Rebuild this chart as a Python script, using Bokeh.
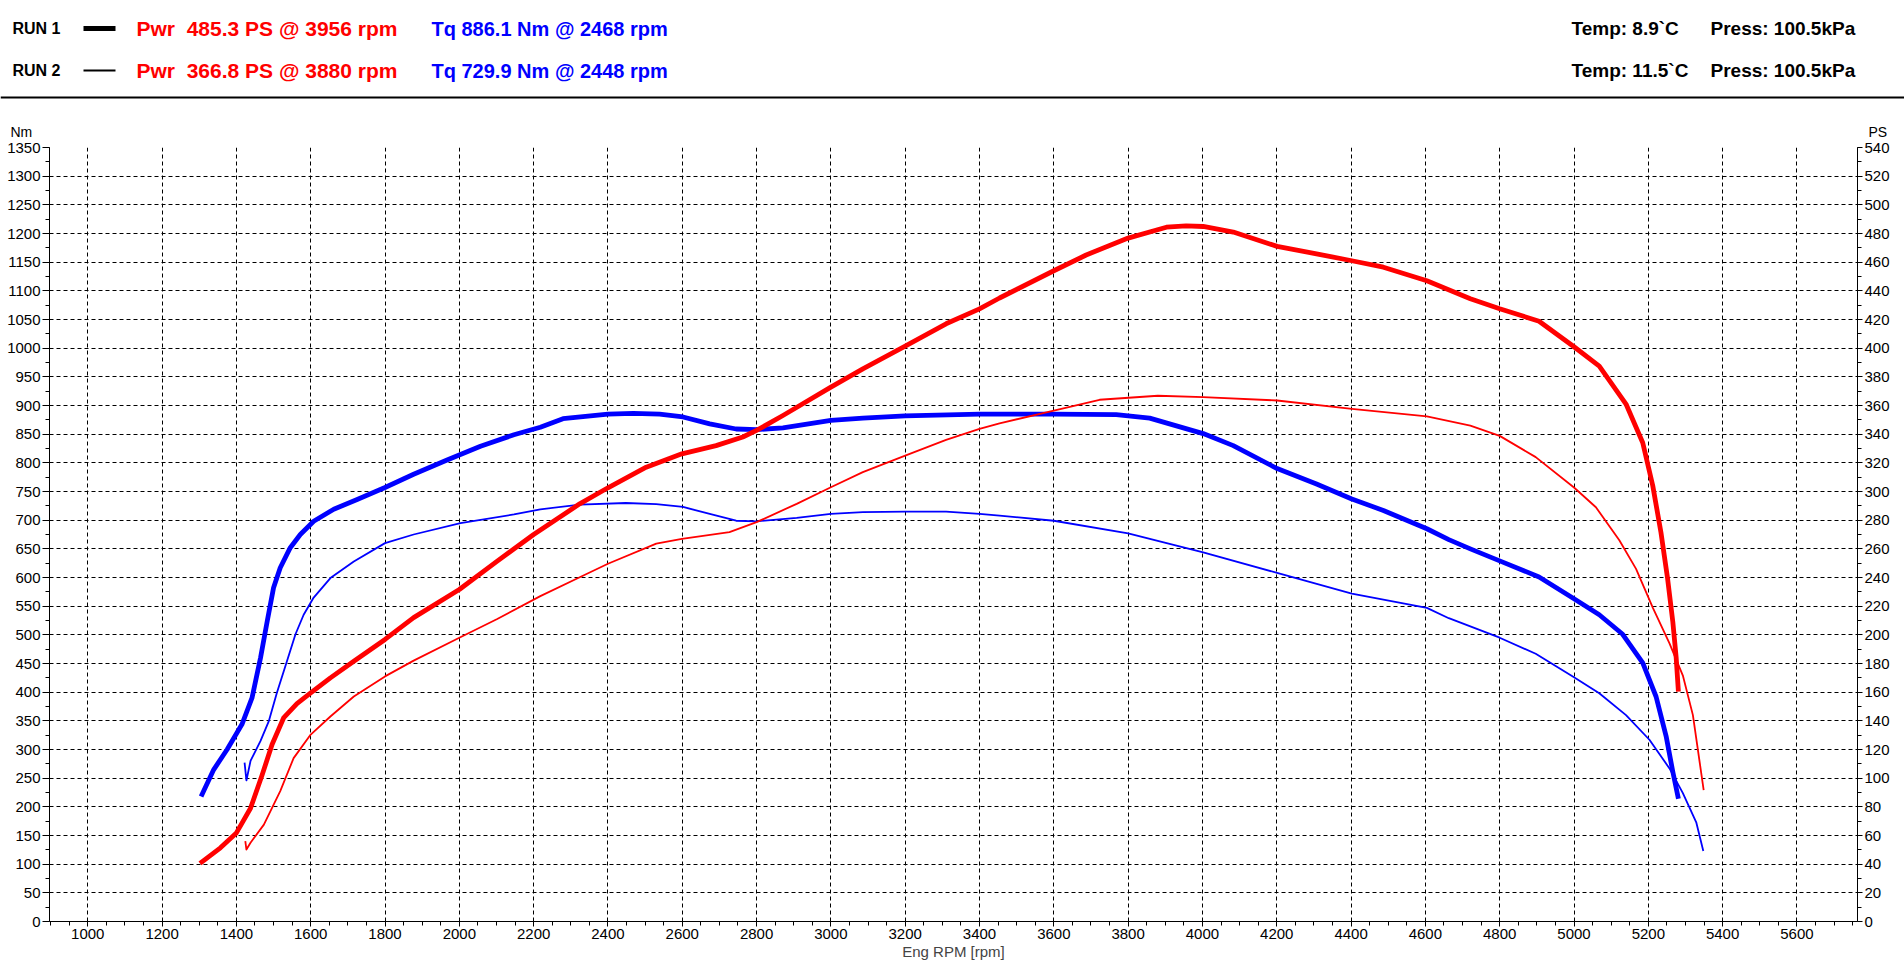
from bokeh.plotting import figure
from bokeh.models import Range1d, LinearAxis, FixedTicker
from bokeh.core.properties import value
from bokeh.embed import file_html
from bokeh.resources import INLINE

# ---------------- data ----------------
run1_tq_rpm = [1305, 1339, 1375, 1415, 1442, 1465, 1483, 1500, 1518, 1545, 1572, 1608, 1662, 1725,
               1800, 1877, 1967, 2057, 2147, 2218, 2279, 2400, 2468, 2539, 2602, 2674, 2745, 2800,
               2871, 3000, 3086, 3200, 3400, 3600, 3768, 3858, 4002, 4083, 4201, 4307, 4402, 4487,
               4604, 4663, 4721, 4800, 4906, 5000, 5068, 5131, 5185, 5221, 5248, 5266, 5281]
run1_tq_nm = [218, 265, 300, 344, 390, 460, 524, 582, 617, 652, 675, 698, 719, 736,
              757, 780, 805, 829, 849, 862, 877, 885, 886.1, 885, 880, 868, 859, 858,
              861, 874, 878, 882, 885, 885, 884, 878, 851, 830, 790, 763, 737, 717,
              685, 666, 650, 629, 601, 563, 535, 501, 451, 392, 323, 261, 214]

run2_tq_rpm = [1422, 1427, 1438, 1465, 1487, 1509, 1536, 1559, 1581, 1608, 1653, 1716, 1800, 1877,
               2003, 2147, 2218, 2324, 2448, 2530, 2602, 2674, 2745, 2800, 2908, 3000, 3086, 3200,
               3310, 3400, 3454, 3600, 3800, 4002, 4201, 4402, 4604, 4663, 4800, 4897, 5000, 5068,
               5140, 5203, 5257, 5293, 5329, 5348]
run2_tq_nm = [277, 246, 280, 315, 349, 399, 454, 501, 535, 565, 599, 628, 660, 675,
              695, 710, 719, 727, 729.9, 728, 723, 711, 699, 698, 704, 711, 714, 715,
              715, 711, 708, 699, 677, 644, 608, 572, 547, 529, 495, 467, 426, 398,
              360, 317, 267, 224, 173, 123]

run1_pw_rpm = [1302, 1357, 1400, 1438, 1469, 1496, 1527, 1563, 1600, 1653, 1716, 1800, 1877, 2000,
               2102, 2200, 2324, 2400, 2503, 2599, 2691, 2763, 2800, 2871, 3000, 3086, 3200, 3310,
               3400, 3454, 3600, 3687, 3800, 3903, 3956, 4002, 4083, 4201, 4307, 4402, 4487, 4604,
               4721, 4800, 4906, 5000, 5068, 5140, 5185, 5212, 5234, 5252, 5266, 5275, 5281]
run1_pw_ps = [40.5, 51.4, 61.8, 79, 102, 123.5, 142, 152, 159.5, 170, 181.6, 196.8, 212, 231.6,
              251.4, 270, 291.4, 302.6, 317, 326.3, 332, 338, 342.6, 353, 372.8, 385.6, 401.4, 417,
              427.4, 435, 454, 465, 476.8, 484.4, 485.3, 484.9, 481, 471, 465.8, 461, 456.5, 447,
              434.5, 427.5, 418.8, 401, 387.5, 361, 334, 304, 271.5, 239, 209, 184, 160.4]

run2_pw_rpm = [1424, 1427, 1438, 1474, 1518, 1554, 1600, 1653, 1716, 1800, 1877, 2000, 2102, 2218,
               2324, 2400, 2530, 2599, 2727, 2800, 2908, 3000, 3086, 3200, 3310, 3400, 3454, 3600,
               3723, 3880, 4002, 4201, 4402, 4604, 4721, 4800, 4897, 5000, 5059, 5122, 5167, 5212,
               5257, 5293, 5320, 5349]
run2_pw_ps = [56, 50.2, 55, 67.6, 91, 114, 130.4, 143, 157, 171, 182, 198, 211, 227,
              240.2, 249.6, 263.6, 267, 271.6, 278.6, 291.4, 303, 313.5, 325, 336, 343.7, 347.5, 356.5,
              364, 366.8, 365.8, 363.5, 357.7, 352.4, 346, 338.8, 324, 302.8, 289, 266, 246, 219,
              194, 171.6, 144, 91.7]

x_ticks = list(range(1000, 5601, 200))
x_minor = list(range(900, 5751, 50))
nm_ticks = list(range(0, 1351, 50))
nm_minor = list(range(0, 1351, 25))
ps_ticks = list(range(0, 541, 20))
ps_minor = list(range(0, 541, 10))

header_run = ["RUN 1", "RUN 2"]
header_pwr = ["Pwr\u00a0 485.3 PS @ 3956 rpm", "Pwr\u00a0 366.8 PS @ 3880 rpm"]
header_tq = ["Tq 886.1 Nm @ 2468 rpm", "Tq 729.9 Nm @ 2448 rpm"]
header_temp = ["Temp: 8.9`C", "Temp: 11.5`C"]
header_press = ["Press: 100.5kPa", "Press: 100.5kPa"]

# ---------------- layout ----------------
W = 1904
HEAD_H = 140          # header canvas height (page px)
MAIN_H = 829          # main canvas height
FL, FT, FW, FH = 49, 7, 1808, 774   # frame inside main canvas
X0, X1 = 897, 5763
Y0, Y1 = 0, 1350
PS_MAX = 540
FONT = "Liberation Sans"
RED = "#ff0000"
BLUE = "#0000ff"

# ---------- header (pixel coordinate canvas) ----------
h = figure(width=W, height=HEAD_H, x_range=Range1d(0, W), y_range=Range1d(HEAD_H, 0),
           output_backend="svg", toolbar_location=None,
           min_border_left=0, min_border_right=0, min_border_top=0, min_border_bottom=0,
           x_axis_type=None, y_axis_type=None)
h.outline_line_color = None
h.xgrid.visible = False
h.ygrid.visible = False
h.background_fill_color = "white"
h.border_fill_color = "white"

rows_y = [28, 70]
h.text(x=[12, 12], y=rows_y, text=header_run, text_font=value(FONT), text_font_size="16px",
       text_font_style="bold", text_color="black", text_baseline="middle")
h.segment(x0=[83], y0=[rows_y[0]], x1=[115], y1=[rows_y[0]], line_color="black", line_width=5)
h.segment(x0=[83], y0=[rows_y[1]], x1=[115], y1=[rows_y[1]], line_color="black", line_width=2)
h.text(x=[136, 136], y=rows_y, text=header_pwr, text_font=value(FONT), text_font_size="21px",
       text_font_style="bold", text_color=RED, text_baseline="middle")
h.text(x=[431, 431], y=rows_y, text=header_tq, text_font=value(FONT), text_font_size="20px",
       text_font_style="bold", text_color=BLUE, text_baseline="middle")
h.text(x=[1571, 1571], y=rows_y, text=header_temp, text_font=value(FONT), text_font_size="19px",
       text_font_style="bold", text_color="black", text_baseline="middle")
h.text(x=[1710, 1710], y=rows_y, text=header_press, text_font=value(FONT), text_font_size="19px",
       text_font_style="bold", text_color="black", text_baseline="middle")
h.segment(x0=[0], y0=[97], x1=[W], y1=[97], line_color="black", line_width=2)
h.text(x=[10], y=[131], text=["Nm"], text_font=value(FONT), text_font_size="14px",
       text_color="black", text_baseline="middle")
h.text(x=[1868], y=[131], text=["PS"], text_font=value(FONT), text_font_size="14px",
       text_color="black", text_baseline="middle")

# ---------- main chart ----------
p = figure(width=W, height=MAIN_H, x_range=Range1d(X0, X1), y_range=Range1d(Y0, Y1),
           output_backend="svg", toolbar_location=None,
           min_border_left=FL, min_border_right=W - FL - FW,
           min_border_top=FT, min_border_bottom=MAIN_H - FT - FH)
p.outline_line_color = None
p.background_fill_color = "white"
p.border_fill_color = "white"
p.extra_y_ranges = {"ps": Range1d(0, PS_MAX)}

xa = p.xaxis[0]
xa.ticker = FixedTicker(ticks=x_ticks, minor_ticks=x_minor)
xa.axis_label = "Eng RPM [rpm]"
xa.axis_label_text_font = FONT
xa.axis_label_text_font_size = "15px"
xa.axis_label_text_font_style = "normal"
xa.axis_label_standoff = 1
xa.major_label_standoff = 2

ya = p.yaxis[0]
ya.ticker = FixedTicker(ticks=nm_ticks, minor_ticks=nm_minor)

ra = LinearAxis(y_range_name="ps", ticker=FixedTicker(ticks=ps_ticks, minor_ticks=ps_minor))
p.add_layout(ra, "right")

for ax in (xa, ya, ra):
    ax.axis_line_color = "black"
    ax.axis_line_width = 1
    ax.major_tick_line_color = "black"
    ax.minor_tick_line_color = "black"
    ax.major_tick_in = 0
    ax.minor_tick_in = 0
    ax.major_label_text_font = FONT
    ax.major_label_text_font_size = "15px"
    ax.major_label_text_color = "black"
xa.major_tick_out = 5
xa.minor_tick_out = 4
ya.major_tick_out = 7
ya.minor_tick_out = 4
ya.major_label_standoff = 2
ra.major_tick_out = 5
ra.minor_tick_out = 4
ra.major_label_standoff = 2

for g in (p.xgrid[0], p.ygrid[0]):
    g.grid_line_color = "black"
    g.grid_line_dash = "4 3"
    g.grid_line_width = 1
p.xgrid[0].ticker = FixedTicker(ticks=x_ticks)
p.ygrid[0].ticker = FixedTicker(ticks=nm_ticks)

p.line(run1_tq_rpm, run1_tq_nm, line_color=BLUE, line_width=4.8, line_join="round")
p.line(run2_tq_rpm, run2_tq_nm, line_color=BLUE, line_width=1.8, line_join="round")
p.line(run1_pw_rpm, run1_pw_ps, line_color=RED, line_width=4.8, line_join="round", y_range_name="ps")
p.line(run2_pw_rpm, run2_pw_ps, line_color=RED, line_width=1.8, line_join="round", y_range_name="ps")

open("out.html", "w").write(file_html([h, p], INLINE))
